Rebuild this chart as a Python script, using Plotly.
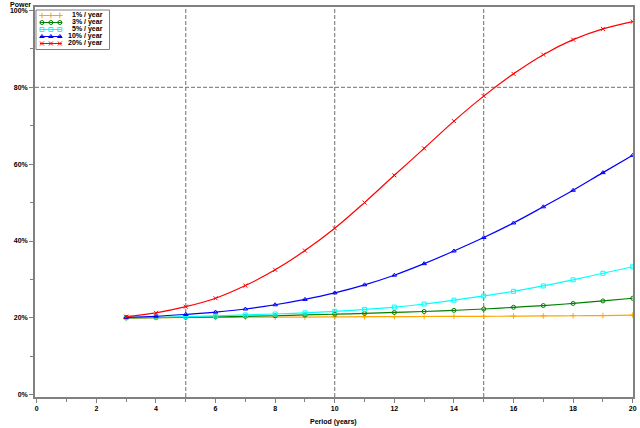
import plotly.graph_objects as go

periods = list(range(3, 21))
series_names = ["1% / year", "3% / year", "5% / year", "10% / year", "20% / year"]
power_1 = [20.0, 20.05, 20.1, 20.1, 20.15, 20.2, 20.2, 20.25, 20.3, 20.3, 20.35, 20.4, 20.4, 20.45, 20.5, 20.55, 20.6, 20.7]
power_3 = [20.0, 20.05, 20.15, 20.25, 20.4, 20.55, 20.75, 20.95, 21.15, 21.4, 21.65, 21.95, 22.3, 22.75, 23.2, 23.75, 24.4, 25.1]
power_5 = [20.05, 20.15, 20.3, 20.5, 20.75, 21.0, 21.3, 21.7, 22.2, 22.8, 23.6, 24.6, 25.7, 26.9, 28.3, 29.9, 31.6, 33.3]
power_10 = [20.1, 20.4, 20.9, 21.5, 22.3, 23.4, 24.8, 26.5, 28.6, 31.1, 34.1, 37.4, 40.9, 44.7, 48.9, 53.2, 57.8, 62.3]
power_20 = [20.3, 21.3, 22.9, 25.1, 28.4, 32.5, 37.5, 43.3, 50.0, 57.1, 64.1, 71.2, 77.7, 83.5, 88.5, 92.4, 95.2, 97.1]
all_series = [power_1, power_3, power_5, power_10, power_20]
x_ticks = [0, 2, 4, 6, 8, 10, 12, 14, 16, 18, 20]
ref_x = [5, 10, 15]
ref_y = [80]

colors = ["#FFA500", "#008000", "#00FFFF", "#0000FF", "#FF0000"]
symbols = ["cross-thin-open", "circle-open", "square-open", "triangle-up-open", "x-thin-open"]

FONT = "Liberation Sans"
W, H = 640, 428
L, R, T, B = 35, 3, 7, 31
pw, ph = W - L - R, H - T - B

fig = go.Figure()
for name, vals, c, s in zip(series_names, all_series, colors, symbols):
    fig.add_trace(go.Scatter(
        x=periods, y=vals, mode="lines+markers", name=name,
        line=dict(color=c, width=1.2, shape="spline"),
        marker=dict(symbol=s, size=4, color=c, line=dict(color=c, width=1)),
        showlegend=False,
    ))

# reference lines
for xv in ref_x:
    fig.add_shape(type="line", xref="x", yref="paper", x0=xv, x1=xv, y0=0, y1=1,
                  line=dict(color="#6e6e6e", width=1, dash="4px,2px"), layer="below")
for yv in ref_y:
    fig.add_shape(type="line", xref="paper", yref="y", x0=0, x1=1, y0=yv, y1=yv,
                  line=dict(color="#6e6e6e", width=1, dash="4px,2px"), layer="below")

# custom compact legend (pixel-like coords on overlay axes)
lx0, lx1, ly0, ly1 = 36, 110, 10, 49.5
def px_x(p):
    return (p - L) / pw
def px_y(p):
    return (H - B - p) / ph

row_y = [15.5, 22.5, 29.5, 36.5, 43.5]
for i, (name, c, s) in enumerate(zip(series_names, colors, symbols)):
    fig.add_trace(go.Scatter(
        x=[40, 62], y=[row_y[i], row_y[i]], mode="lines", xaxis="x2", yaxis="y2",
        line=dict(color=c, width=1.2), showlegend=False, hoverinfo="skip"))
    fig.add_trace(go.Scatter(
        x=[42, 51, 60], y=[row_y[i]] * 3, mode="markers", xaxis="x2", yaxis="y2",
        marker=dict(symbol=s, size=4, color=c, line=dict(color=c, width=1)),
        showlegend=False, hoverinfo="skip"))
    fig.add_annotation(x=105, y=row_y[i], xref="x2", yref="y2", text=name,
                       showarrow=False, xanchor="right", yanchor="middle",
                       font=dict(family=FONT, size=7, color="black", weight="bold"))

fig.add_shape(type="rect", xref="paper", yref="paper",
              x0=px_x(lx0), x1=px_x(lx1), y0=px_y(ly1), y1=px_y(ly0),
              line=dict(color="#808080", width=1), fillcolor="rgba(0,0,0,0)")

fig.add_annotation(x=px_x(33), y=px_y(4), xref="paper", yref="paper", text="Power",
                   showarrow=False, xanchor="right", yanchor="middle",
                   font=dict(family=FONT, size=7, color="black", weight="bold"))
fig.add_annotation(x=px_x(335), y=px_y(422), xref="paper", yref="paper", text="Period (years)",
                   showarrow=False, xanchor="center", yanchor="middle",
                   font=dict(family=FONT, size=7, color="black", weight="bold"))

tickfont = dict(family=FONT, size=7, color="black", weight="bold")
fig.update_layout(
    width=W, height=H,
    margin=dict(l=L, r=R, t=T, b=B),
    paper_bgcolor="white", plot_bgcolor="white",
    showlegend=False,
    xaxis=dict(range=[-0.06, 20.01], tickmode="array", tickvals=x_ticks,
               ticktext=[str(v) for v in x_ticks], showgrid=False, zeroline=False,
               showline=True, linecolor="#808080", linewidth=1.5, mirror=True,
               ticks="outside", ticklen=4, tickcolor="#808080", tickfont=tickfont,
               minor=dict(ticks="outside", dtick=1, tick0=0, ticklen=3, tickcolor="#808080", showgrid=False)),
    yaxis=dict(range=[-0.6, 100.9], dtick=20, tick0=0, ticksuffix="%", showgrid=False, zeroline=False,
               showline=True, linecolor="#808080", linewidth=1.5, mirror=True,
               ticks="outside", ticklen=4, tickcolor="#808080", tickfont=tickfont,
               minor=dict(ticks="outside", dtick=10, ticklen=3, tickcolor="#808080", showgrid=False)),
    xaxis2=dict(domain=[px_x(lx0), px_x(lx1)], range=[lx0, lx1], visible=False, anchor="y2"),
    yaxis2=dict(domain=[px_y(ly1), px_y(ly0)], range=[ly1, ly0], visible=False, anchor="x2"),
)

fig.write_html("out.html")
